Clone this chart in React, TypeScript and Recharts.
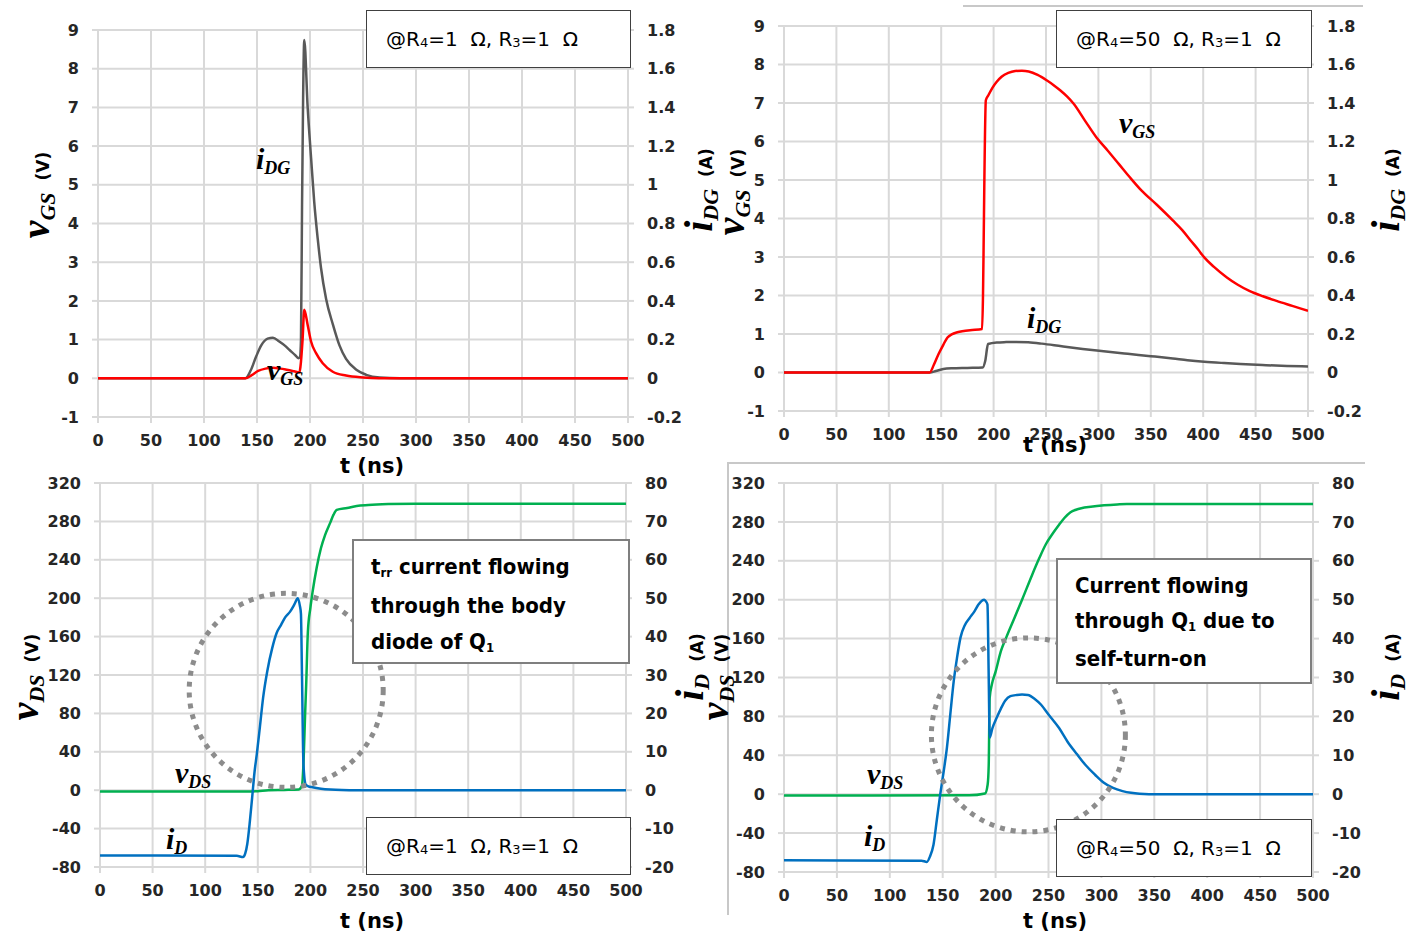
import { LineChart, Line, XAxis, YAxis, CartesianGrid, ReferenceDot } from 'recharts';

// time axis (ns)
const tTicks = [0, 50, 100, 150, 200, 250, 300, 350, 400, 450, 500];
const vgsTicks = [-1, 0, 1, 2, 3, 4, 5, 6, 7, 8, 9];
const idgTicks = [-0.2, 0, 0.2, 0.4, 0.6, 0.8, 1, 1.2, 1.4, 1.6, 1.8];
const vdsTicks = [-80, -40, 0, 40, 80, 120, 160, 200, 240, 280, 320];
const idTicks = [-20, -10, 0, 10, 20, 30, 40, 50, 60, 70, 80];

// top-left: R4 = 1 ohm
const vgsR4a = [
  { t: 0, v: 0 }, { t: 139, v: 0 }, { t: 145, v: 0.08 }, { t: 151, v: 0.19 }, { t: 158, v: 0.25 },
  { t: 165, v: 0.27 }, { t: 172, v: 0.25 }, { t: 178, v: 0.22 }, { t: 185, v: 0.18 }, { t: 190, v: 0.15 },
  { t: 191, v: 0.3 }, { t: 193, v: 1.0 }, { t: 194.6, v: 1.77 }, { t: 197.8, v: 1.38 }, { t: 201, v: 0.95 },
  { t: 205.7, v: 0.65 }, { t: 212, v: 0.39 }, { t: 221.5, v: 0.17 }, { t: 234, v: 0.07 }, { t: 250, v: 0.02 },
  { t: 265, v: 0 }, { t: 500, v: 0 },
];
const idgR4a = [
  { t: 0, v: 0 }, { t: 139, v: 0 }, { t: 144, v: 0.04 }, { t: 149, v: 0.11 }, { t: 154, v: 0.17 },
  { t: 160, v: 0.205 }, { t: 165, v: 0.21 }, { t: 171, v: 0.19 }, { t: 176, v: 0.17 }, { t: 181, v: 0.145 },
  { t: 186, v: 0.12 }, { t: 189, v: 0.104 }, { t: 190.5, v: 0.11 }, { t: 191.5, v: 0.2 }, { t: 192.5, v: 0.9 },
  { t: 193.5, v: 1.45 }, { t: 194.6, v: 1.748 }, { t: 197.8, v: 1.4 }, { t: 201, v: 1.14 }, { t: 204, v: 0.91 },
  { t: 207.3, v: 0.72 }, { t: 210.4, v: 0.57 }, { t: 215.2, v: 0.41 }, { t: 221.5, v: 0.28 }, { t: 227.8, v: 0.17 },
  { t: 234, v: 0.1 }, { t: 243.7, v: 0.044 }, { t: 253, v: 0.018 }, { t: 265.8, v: 0.004 }, { t: 285, v: 0 },
  { t: 500, v: 0 },
];

// top-right: R4 = 50 ohm
const vgsR4b = [
  { t: 0, v: 0 }, { t: 139, v: 0 }, { t: 143, v: 0.2 }, { t: 147.5, v: 0.48 }, { t: 152, v: 0.72 },
  { t: 156, v: 0.91 }, { t: 160, v: 0.99 }, { t: 164.6, v: 1.04 }, { t: 170, v: 1.07 }, { t: 177.6, v: 1.1 },
  { t: 189, v: 1.13 }, { t: 192.6, v: 7.07 }, { t: 195, v: 7.2 }, { t: 199, v: 7.4 }, { t: 203, v: 7.55 },
  { t: 207.6, v: 7.68 }, { t: 214, v: 7.78 }, { t: 220.6, v: 7.83 }, { t: 227, v: 7.84 }, { t: 233.5, v: 7.82 },
  { t: 242, v: 7.73 }, { t: 250.6, v: 7.59 }, { t: 257, v: 7.47 }, { t: 263.5, v: 7.33 }, { t: 270, v: 7.17 },
  { t: 276.4, v: 6.98 }, { t: 287, v: 6.55 }, { t: 298, v: 6.11 }, { t: 309, v: 5.76 }, { t: 319.4, v: 5.42 },
  { t: 330, v: 5.07 }, { t: 341, v: 4.73 }, { t: 356, v: 4.35 }, { t: 371, v: 3.95 }, { t: 380, v: 3.7 },
  { t: 388, v: 3.43 }, { t: 395, v: 3.2 }, { t: 401, v: 2.99 }, { t: 410, v: 2.75 }, { t: 422.6, v: 2.47 },
  { t: 433, v: 2.28 }, { t: 444, v: 2.12 }, { t: 457, v: 1.98 }, { t: 470, v: 1.86 }, { t: 485, v: 1.73 },
  { t: 500, v: 1.6 },
];
const idgR4b = [
  { t: 0, v: 0 }, { t: 139, v: 0 }, { t: 145, v: 0.008 }, { t: 152, v: 0.018 }, { t: 160, v: 0.022 },
  { t: 175, v: 0.024 }, { t: 189.6, v: 0.026 }, { t: 192, v: 0.06 }, { t: 194.7, v: 0.148 }, { t: 203, v: 0.156 },
  { t: 212, v: 0.158 }, { t: 220.6, v: 0.159 }, { t: 233, v: 0.157 }, { t: 246, v: 0.15 }, { t: 265, v: 0.136 },
  { t: 285, v: 0.122 }, { t: 305, v: 0.11 }, { t: 328, v: 0.097 }, { t: 350, v: 0.085 }, { t: 371, v: 0.073 },
  { t: 385, v: 0.064 }, { t: 401, v: 0.056 }, { t: 420, v: 0.049 }, { t: 435.5, v: 0.044 }, { t: 460, v: 0.038 },
  { t: 480, v: 0.034 }, { t: 500, v: 0.031 },
];

// bottom-left: R4 = 1 ohm
const vdsR4a = [
  { t: 0, v: -1.4 }, { t: 140, v: -1.4 }, { t: 150, v: -1 }, { t: 160, v: 0 }, { t: 175, v: 0.3 },
  { t: 189, v: 0.7 }, { t: 192, v: 5 }, { t: 193.5, v: 30 }, { t: 195, v: 80 }, { t: 196, v: 110 },
  { t: 197.6, v: 165 }, { t: 200, v: 190 }, { t: 202, v: 206 }, { t: 206, v: 232 }, { t: 210, v: 252 },
  { t: 214, v: 266 }, { t: 219, v: 279 }, { t: 222, v: 287 }, { t: 225, v: 292 }, { t: 235, v: 294 },
  { t: 244, v: 296 }, { t: 255, v: 297 }, { t: 274, v: 298 }, { t: 300, v: 298.5 }, { t: 500, v: 298.5 },
];
const idR4a = [
  { t: 0, v: -17 }, { t: 130, v: -17.1 }, { t: 136, v: -17.4 }, { t: 138, v: -16.5 }, { t: 140, v: -14 },
  { t: 142.5, v: -8 }, { t: 144.6, v: -2 }, { t: 147, v: 5 }, { t: 149, v: 9.25 }, { t: 152, v: 16.5 },
  { t: 155, v: 24 }, { t: 159, v: 31 }, { t: 163.7, v: 37 }, { t: 168, v: 41 }, { t: 172, v: 43 },
  { t: 176, v: 45 }, { t: 180.7, v: 46.5 }, { t: 185, v: 48.5 }, { t: 188, v: 50 }, { t: 190, v: 48 },
  { t: 191, v: 46 }, { t: 192, v: 30 }, { t: 193.4, v: 6.75 }, { t: 195.5, v: 1.5 }, { t: 198, v: 1 },
  { t: 202, v: 0.75 }, { t: 210, v: 0.4 }, { t: 219, v: 0.18 }, { t: 230, v: 0.05 }, { t: 244, v: 0 },
  { t: 500, v: 0 },
];

// bottom-right: R4 = 50 ohm
const vdsR4b = [
  { t: 0, v: -1.4 }, { t: 175, v: -1.2 }, { t: 190, v: 0.7 }, { t: 192.5, v: 10 }, { t: 193.5, v: 30 },
  { t: 194.4, v: 99 }, { t: 196.5, v: 113 }, { t: 200, v: 126 }, { t: 205, v: 147 }, { t: 210, v: 161 },
  { t: 217.7, v: 181 }, { t: 225, v: 200 }, { t: 234.7, v: 226 }, { t: 241, v: 242 }, { t: 247.5, v: 257 },
  { t: 254, v: 268 }, { t: 260, v: 277 }, { t: 265, v: 284 }, { t: 270.8, v: 290 }, { t: 276, v: 292.5 },
  { t: 281, v: 294 }, { t: 290, v: 295.5 }, { t: 302.6, v: 297 }, { t: 315, v: 298 }, { t: 324, v: 298.5 },
  { t: 500, v: 298.5 },
];
const idR4b = [
  { t: 0, v: -17 }, { t: 130, v: -17.1 }, { t: 135, v: -17.4 }, { t: 138, v: -16 }, { t: 141.3, v: -13 },
  { t: 144.5, v: -6.5 }, { t: 147.7, v: 0 }, { t: 151, v: 6 }, { t: 154, v: 12 }, { t: 157, v: 20 },
  { t: 160.4, v: 29 }, { t: 163.5, v: 35 }, { t: 166.8, v: 40.25 }, { t: 171, v: 43.5 }, { t: 175.3, v: 45.25 },
  { t: 180, v: 47 }, { t: 183.8, v: 48.75 }, { t: 189.3, v: 50 }, { t: 191, v: 49.5 }, { t: 192.3, v: 48.75 },
  { t: 193.5, v: 30 }, { t: 194.4, v: 14.5 }, { t: 197, v: 17 }, { t: 200.8, v: 19.5 }, { t: 205, v: 22 },
  { t: 209, v: 24 }, { t: 214, v: 25.2 }, { t: 220, v: 25.5 }, { t: 225, v: 25.6 }, { t: 230.5, v: 25.5 },
  { t: 237, v: 24.5 }, { t: 243, v: 23 }, { t: 250, v: 20.5 }, { t: 260, v: 17 }, { t: 268, v: 13.5 },
  { t: 277, v: 10.25 }, { t: 285, v: 7.5 }, { t: 294, v: 5 }, { t: 302, v: 3 }, { t: 311, v: 1.6 },
  { t: 320, v: 0.8 }, { t: 328, v: 0.35 }, { t: 336, v: 0.1 }, { t: 345, v: 0 }, { t: 500, v: 0 },
];

const sans = '"DejaVu Sans", sans-serif';
const sansCond = '"DejaVu Sans Condensed", "DejaVu Sans", sans-serif';
const serif = '"Liberation Serif", "DejaVu Serif", serif';

const tickStyle = { fontSize: 16, fontWeight: 700, fill: '#262626', fontFamily: sans };
const gridStroke = '#d9d9d9';

type Series = { data: { t: number; v: number }[]; axis: 'left' | 'right'; color: string };

interface PanelProps {
  left: number;
  top: number;
  width: number;
  height: number;
  margin: { top: number; right: number; left: number; bottom: number };
  rightWidth: number;
  lDomain: number[];
  lTicks: number[];
  rDomain: number[];
  rTicks: number[];
  lines: Series[];
  circle?: { t: number; v: number };
}

function Panel({ left, top, width, height, margin, rightWidth, lDomain, lTicks, rDomain, rTicks, lines, circle }: PanelProps) {
  return (
    <div style={{ position: 'absolute', left, top, width, height }}>
      <LineChart width={width} height={height} margin={margin}>
        <CartesianGrid yAxisId="left" stroke={gridStroke} strokeWidth={2} />
        <XAxis
          type="number"
          dataKey="t"
          domain={[0, 500]}
          ticks={tTicks}
          interval={0}
          allowDataOverflow
          axisLine={false}
          tickLine={{ stroke: gridStroke, strokeWidth: 2 }}
          tickSize={6}
          tickMargin={12}
          height={30}
          tick={tickStyle}
        />
        <YAxis
          yAxisId="left"
          domain={lDomain}
          ticks={lTicks}
          interval={0}
          allowDataOverflow
          width={60}
          axisLine={false}
          tickLine={{ stroke: gridStroke, strokeWidth: 2 }}
          tickSize={6}
          tickMargin={13}
          tick={tickStyle}
        />
        <YAxis
          yAxisId="right"
          orientation="right"
          domain={rDomain}
          ticks={rTicks}
          interval={0}
          allowDataOverflow
          width={rightWidth}
          axisLine={false}
          tickLine={{ stroke: gridStroke, strokeWidth: 2 }}
          tickSize={6}
          tickMargin={13}
          tick={tickStyle}
        />
        {circle && (
          <ReferenceDot
            yAxisId="left"
            x={circle.t}
            y={circle.v}
            r={97}
            shape={(p: any) => (
              <circle cx={p.cx} cy={p.cy} r={97} fill="none" stroke="#8c8c8c" strokeWidth={5} strokeDasharray="5 6" />
            )}
          />
        )}
        {lines.map((s, i) => (
          <Line
            key={i}
            data={s.data}
            dataKey="v"
            yAxisId={s.axis}
            type="monotone"
            stroke={s.color}
            strokeWidth={2.5}
            dot={false}
            isAnimationActive={false}
          />
        ))}
      </LineChart>
    </div>
  );
}

function Sym({ main, sub, size, subSize }: { main: string; sub: string; size: number; subSize: number }) {
  return (
    <span style={{ fontFamily: serif, fontStyle: 'italic', fontWeight: 700, fontSize: size }}>
      {main}
      <span style={{ fontSize: subSize, position: 'relative', top: subSize * 0.25 }}>{sub}</span>
    </span>
  );
}

function YLabel({ x, y, main, sub, unit }: { x: number; y: number; main: string; sub: string; unit: string }) {
  return (
    <div
      style={{
        position: 'absolute',
        left: x,
        top: y,
        transform: 'translate(-50%, -50%) rotate(-90deg)',
        whiteSpace: 'nowrap',
        lineHeight: 1,
      }}
    >
      <Sym main={main} sub={sub} size={40} subSize={22} />
      <span style={{ fontFamily: sans, fontWeight: 700, fontSize: 17, marginLeft: 12 }}>{unit}</span>
    </div>
  );
}

function CurveLabel({ x, y, main, sub }: { x: number; y: number; main: string; sub: string }) {
  return (
    <div style={{ position: 'absolute', left: x, top: y, whiteSpace: 'nowrap', lineHeight: 1 }}>
      <Sym main={main} sub={sub} size={30} subSize={18} />
    </div>
  );
}

function XTitle({ x, y }: { x: number; y: number }) {
  return (
    <div
      style={{
        position: 'absolute',
        left: x,
        top: y,
        transform: 'translate(-50%, -50%)',
        fontFamily: sans,
        fontWeight: 700,
        fontSize: 21,
        whiteSpace: 'nowrap',
        lineHeight: 1,
      }}
    >
      t (ns)
    </div>
  );
}

function RBox({ x, y, w, h, r4 }: { x: number; y: number; w: number; h: number; r4: string }) {
  const sub = { fontSize: 13, position: 'relative' as const, top: 3 };
  return (
    <div
      style={{
        position: 'absolute',
        left: x,
        top: y,
        width: w,
        height: h,
        boxSizing: 'border-box',
        border: '1.5px solid #404040',
        background: '#fff',
        display: 'flex',
        alignItems: 'center',
        paddingLeft: 19,
        fontFamily: sans,
        fontSize: 20,
        color: '#000',
        whiteSpace: 'pre',
      }}
    >
      @R<span style={sub}>4</span>={r4}{'  '}Ω, R<span style={sub}>3</span>=1{'  '}Ω
    </div>
  );
}

function NoteBox({ x, y, w, h, lh, children }: { x: number; y: number; w: number; h: number; lh: number; children: any }) {
  return (
    <div
      style={{
        position: 'absolute',
        left: x,
        top: y,
        width: w,
        height: h,
        boxSizing: 'border-box',
        border: '2px solid #7f7f7f',
        background: '#fff',
        paddingLeft: 17,
        paddingTop: 8,
        fontFamily: sansCond,
        fontWeight: 700,
        fontSize: 22,
        lineHeight: `${lh}px`,
        color: '#000',
        whiteSpace: 'nowrap',
      }}
    >
      {children}
    </div>
  );
}

const smallSub = { fontSize: 13, position: 'relative' as const, top: 3 };

export default function App() {
  return (
    <div style={{ position: 'absolute', left: 0, top: 0, width: 1409, height: 931, background: '#fff', overflow: 'hidden' }}>
      {/* frame lines of the right-hand figures */}
      <div style={{ position: 'absolute', left: 963, top: 5, width: 400, height: 2, background: '#c8c8c8' }} />
      <div style={{ position: 'absolute', left: 727, top: 462, width: 638, height: 2, background: '#c8c8c8' }} />
      <div style={{ position: 'absolute', left: 727, top: 463, width: 2, height: 452, background: '#c8c8c8' }} />

      <Panel
        left={0}
        top={0}
        width={700}
        height={470}
        margin={{ top: 30, right: 12, left: 38, bottom: 23 }}
        rightWidth={60}
        lDomain={[-1, 9]}
        lTicks={vgsTicks}
        rDomain={[-0.2, 1.8]}
        rTicks={idgTicks}
        lines={[
          { data: idgR4a, axis: 'right', color: '#595959' },
          { data: vgsR4a, axis: 'left', color: '#ff0000' },
        ]}
      />
      <Panel
        left={700}
        top={0}
        width={666}
        height={470}
        margin={{ top: 26, right: 8, left: 24, bottom: 29 }}
        rightWidth={50}
        lDomain={[-1, 9]}
        lTicks={vgsTicks}
        rDomain={[-0.2, 1.8]}
        rTicks={idgTicks}
        lines={[
          { data: idgR4b, axis: 'right', color: '#595959' },
          { data: vgsR4b, axis: 'left', color: '#ff0000' },
        ]}
      />
      <Panel
        left={0}
        top={465}
        width={700}
        height={466}
        margin={{ top: 18, right: 14, left: 40, bottom: 34 }}
        rightWidth={60}
        lDomain={[-80, 320]}
        lTicks={vdsTicks}
        rDomain={[-20, 80]}
        rTicks={idTicks}
        circle={{ t: 177, v: 104 }}
        lines={[
          { data: vdsR4a, axis: 'left', color: '#00b050' },
          { data: idR4a, axis: 'right', color: '#0070c0' },
        ]}
      />
      <Panel
        left={700}
        top={465}
        width={668}
        height={466}
        margin={{ top: 18, right: 5, left: 24, bottom: 29 }}
        rightWidth={50}
        lDomain={[-80, 320]}
        lTicks={vdsTicks}
        rDomain={[-20, 80]}
        rTicks={idTicks}
        circle={{ t: 231, v: 61 }}
        lines={[
          { data: vdsR4b, axis: 'left', color: '#00b050' },
          { data: idR4b, axis: 'right', color: '#0070c0' },
        ]}
      />

      <XTitle x={372} y={466} />
      <XTitle x={1055} y={445} />
      <XTitle x={372} y={921} />
      <XTitle x={1055} y={921} />

      <YLabel x={36} y={195} main="v" sub="GS" unit="(V)" />
      <YLabel x={699} y={190} main="i" sub="DG" unit="(A)" />
      <YLabel x={731} y={192} main="v" sub="GS" unit="(V)" />
      <YLabel x={1386} y={190} main="i" sub="DG" unit="(A)" />
      <YLabel x={25} y={677} main="v" sub="DS" unit="(V)" />
      <YLabel x={690} y={667} main="i" sub="D" unit="(A)" />
      <YLabel x={715} y={677} main="v" sub="DS" unit="(V)" />
      <YLabel x={1386} y={667} main="i" sub="D" unit="(A)" />

      <CurveLabel x={256} y={144} main="i" sub="DG" />
      <CurveLabel x={267} y={355} main="v" sub="GS" />
      <CurveLabel x={1119} y={108} main="v" sub="GS" />
      <CurveLabel x={1027} y={303} main="i" sub="DG" />
      <CurveLabel x={175} y={758} main="v" sub="DS" />
      <CurveLabel x={166} y={824} main="i" sub="D" />
      <CurveLabel x={867} y={759} main="v" sub="DS" />
      <CurveLabel x={864} y={821} main="i" sub="D" />

      <RBox x={366} y={10} w={265} h={58} r4="1" />
      <RBox x={1056} y={10} w={256} h={58} r4="50" />
      <RBox x={366} y={817} w={265} h={58} r4="1" />
      <RBox x={1056} y={819} w={256} h={58} r4="50" />

      <NoteBox x={352} y={539} w={278} h={125} lh={36}>
        <div>
          t<span style={smallSub}>rr</span> current flowing
        </div>
        <div>through the body</div>
        <div>
          diode of Q<span style={smallSub}>1</span>
        </div>
      </NoteBox>
      <NoteBox x={1056} y={558} w={256} h={126} lh={35}>
        <div>Current flowing</div>
        <div>
          through Q<span style={smallSub}>1</span> due to
        </div>
        <div>self-turn-on</div>
      </NoteBox>
    </div>
  );
}
